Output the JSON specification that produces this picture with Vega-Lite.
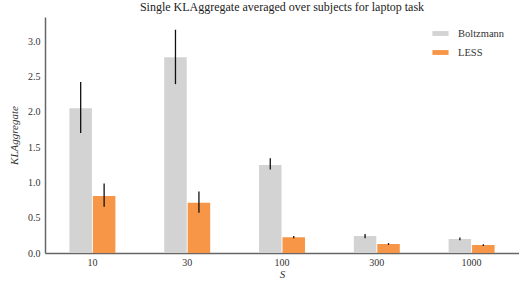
{
  "$schema": "https://vega.github.io/schema/vega-lite/v6.json",
  "width": 474,
  "height": 236,
  "autosize": {"type": "none"},
  "padding": {"left": 45, "top": 17, "right": 0, "bottom": 29},
  "background": "white",
  "title": {
    "text": "Single KLAggregate averaged over subjects for laptop task",
    "font": "Liberation Serif",
    "fontSize": 12,
    "fontWeight": "normal",
    "color": "#222222",
    "offset": 3
  },
  "config": {
    "view": {"stroke": null},
    "font": "Liberation Serif",
    "axis": {"labelFont": "Liberation Serif", "titleFont": "Liberation Serif"},
    "legend": {"labelFont": "Liberation Serif"},
    "axisY": {
      "values": [0, 0.5, 1, 1.5, 2, 2.5, 3],
      "format": ".1f",
      "labelOverlap": false,
      "labelFontSize": 10,
      "labelColor": "#333333",
      "labelPadding": 5,
      "ticks": false,
      "grid": false,
      "domainColor": "#666666",
      "domainWidth": 1.5,
      "titleFontStyle": "italic",
      "titleFontWeight": "normal",
      "titleFontSize": 11,
      "titleColor": "#333333",
      "titlePadding": 8
    }
  },
  "data": {
    "values": [
      {"S": "10", "method": "Boltzmann", "value": 2.05, "lo": 1.70, "hi": 2.42},
      {"S": "10", "method": "LESS", "value": 0.806, "lo": 0.655, "hi": 0.985},
      {"S": "30", "method": "Boltzmann", "value": 2.77, "lo": 2.39, "hi": 3.16},
      {"S": "30", "method": "LESS", "value": 0.71, "lo": 0.57, "hi": 0.87},
      {"S": "100", "method": "Boltzmann", "value": 1.245, "lo": 1.18, "hi": 1.34},
      {"S": "100", "method": "LESS", "value": 0.222, "lo": 0.21, "hi": 0.24},
      {"S": "300", "method": "Boltzmann", "value": 0.24, "lo": 0.21, "hi": 0.27},
      {"S": "300", "method": "LESS", "value": 0.127, "lo": 0.115, "hi": 0.14},
      {"S": "1000", "method": "Boltzmann", "value": 0.198, "lo": 0.18, "hi": 0.22},
      {"S": "1000", "method": "LESS", "value": 0.113, "lo": 0.10, "hi": 0.125}
    ]
  },
  "encoding": {
    "x": {
      "field": "S",
      "type": "nominal",
      "sort": ["10", "30", "100", "300", "1000"],
      "scale": {"paddingInner": 0.515, "paddingOuter": 0.2575},
      "axis": {
        "title": "S",
        "titleFontStyle": "italic",
        "titleFontWeight": "normal",
        "titleFontSize": 11,
        "titleColor": "#333333",
        "titlePadding": 1,
        "labelAngle": 0,
        "labelFontSize": 10,
        "labelColor": "#333333",
        "labelPadding": 4,
        "ticks": false,
        "domainColor": "#666666",
        "domainWidth": 1.5,
        "grid": false
      }
    },
    "xOffset": {
      "field": "method",
      "type": "nominal",
      "scale": {"paddingInner": 0.04}
    }
  },
  "layer": [
    {
      "mark": {"type": "bar"},
      "encoding": {
        "y": {
          "field": "value",
          "type": "quantitative",
          "scale": {"domain": [0, 3.34], "nice": false},
          "axis": {"title": "KLAggregate"}
        },
        "color": {
          "field": "method",
          "type": "nominal",
          "scale": {"domain": ["Boltzmann", "LESS"], "range": ["#d3d3d3", "#f79646"]},
          "legend": {
            "title": null,
            "orient": "none",
            "legendX": 387,
            "legendY": 8,
            "symbolType": "M-1,-0.3L1,-0.3L1,0.3L-1,0.3Z",
            "symbolSize": 260,
            "symbolStrokeWidth": 0,
            "labelFont": "Liberation Serif",
            "labelFontSize": 10.5,
            "labelColor": "#333333",
            "labelOffset": 9,
            "rowPadding": 5
          }
        }
      }
    },
    {
      "mark": {"type": "rule", "color": "#111111", "strokeWidth": 1.3},
      "encoding": {
        "y": {"field": "lo", "type": "quantitative", "axis": {"title": "KLAggregate"}},
        "y2": {"field": "hi"}
      }
    }
  ]
}
